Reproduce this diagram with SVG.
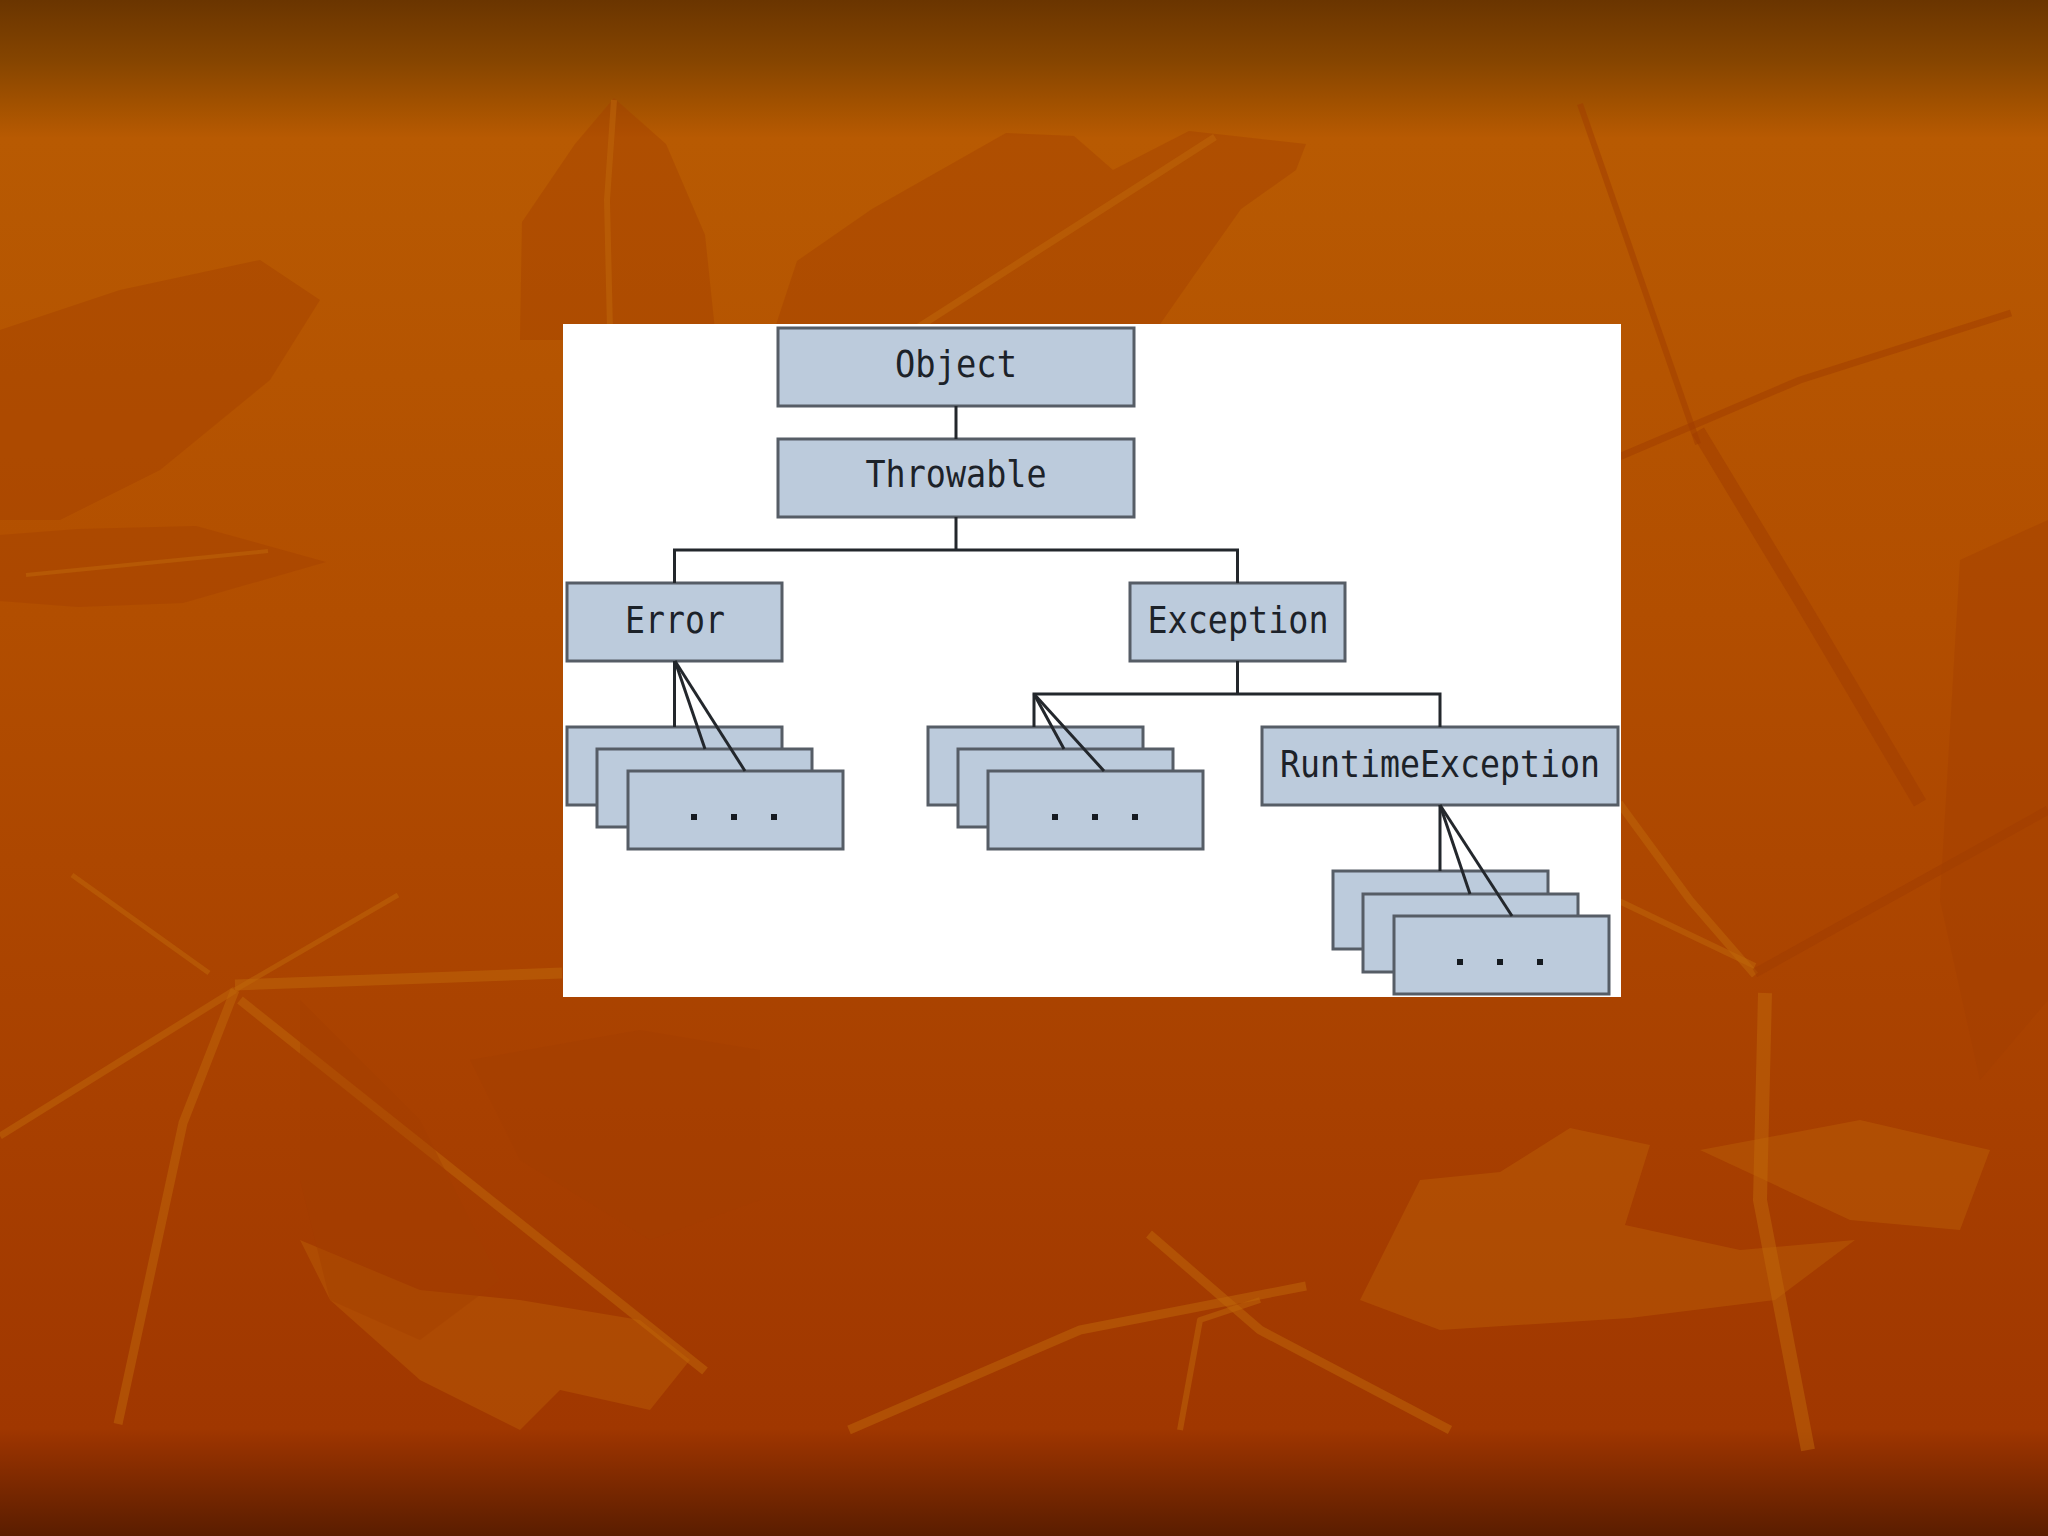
<svg xmlns="http://www.w3.org/2000/svg" width="2048" height="1536" viewBox="0 0 2048 1536">
  <defs>
    <linearGradient id="bg" x1="0" y1="0" x2="0" y2="1536" gradientUnits="userSpaceOnUse">
      <stop offset="0" stop-color="#6a3500"/>
      <stop offset="0.04" stop-color="#864500"/>
      <stop offset="0.07" stop-color="#a45200"/>
      <stop offset="0.09" stop-color="#b85a02"/>
      <stop offset="0.4" stop-color="#b24e00"/>
      <stop offset="0.72" stop-color="#a84000"/>
      <stop offset="0.93" stop-color="#a03700"/>
      <stop offset="0.94" stop-color="#963200"/>
      <stop offset="1" stop-color="#5a1d00"/>
    </linearGradient>
    <style>
      .dk { fill: #a23f00; opacity: 0.4; }
      .lt { fill: #c26a08; opacity: 0.35; }
      .vein { stroke: #c0680a; fill: none; stroke-linecap: butt; stroke-linejoin: round; opacity: 0.5; }
      .dvein { stroke: #a03c00; fill: none; stroke-linecap: butt; stroke-linejoin: round; opacity: 0.5; }
      .box { fill: #bccbdc; stroke: #565d66; stroke-width: 3; }
      .lbl { font-family: "DejaVu Sans Mono", "Liberation Mono", monospace; font-size: 38px; fill: #1c2229; text-anchor: middle; }
      .dot { fill: #151a20; }
      .conn { stroke: #23272c; stroke-width: 3; fill: none; }
    </style>
  </defs>

  <!-- background -->
  <rect x="0" y="0" width="2048" height="1536" fill="url(#bg)"/>
  <g id="leaves">
    <!-- top centre leaf -->
    <path class="dk" d="M872,209 L1006,133 L1074,136 L1113,170 L1189,131 L1306,144 L1296,170 L1241,209 L1195,274 L1149,340 L771,340 L797,261 Z" opacity="0.55"/>
    <path class="vein" stroke-width="7" d="M1215,137 L914,330"/>
    <!-- tall top-left leaf -->
    <path class="dk" d="M522,222 L575,144 L614,98 L666,144 L705,235 L716,340 L520,340 Z" opacity="0.3"/>
    <path class="vein" stroke-width="6" d="M614,100 L607,200 L610,330"/>
    <!-- left upper faint leaf -->
    <path class="dk" d="M0,330 L120,290 L260,260 L320,300 L270,380 L160,470 L60,520 L0,520 Z" opacity="0.18"/>
    <!-- left horizontal dark leaf -->
    <path class="dk" d="M0,535 L78,529 L196,526 L326,562 L183,603 L78,607 L0,601 Z" opacity="0.6"/>
    <path class="vein" stroke-width="4" d="M26,575 L268,551"/>
    <!-- lower-left branches -->
    <path class="vein" stroke-width="11" d="M235,985 L562,973"/>
    <path class="vein" stroke-width="5" d="M235,990 L398,895"/>
    <path class="vein" stroke-width="9" d="M235,990 L183,1123 L118,1424"/>
    <path class="vein" stroke-width="9" d="M240,1000 L705,1371"/>
    <path class="vein" stroke-width="7" d="M235,990 L0,1136"/>
    <path class="vein" stroke-width="5" d="M72,875 L209,973"/>
    <path class="lt" d="M300,1240 L420,1290 L520,1300 L640,1320 L690,1360 L650,1410 L560,1390 L520,1430 L420,1380 L330,1300 Z" opacity="0.3"/>
    <path class="dk" d="M300,1000 L420,1120 L500,1280 L420,1340 L330,1300 L300,1180 Z" opacity="0.2"/>
    <!-- bottom centre -->
    <path class="dk" d="M470,1060 L640,1030 L760,1050 L760,1200 L650,1240 L520,1160 Z" opacity="0.2"/>
    <path class="lt" d="M1360,1300 L1420,1180 L1500,1172 L1570,1128 L1650,1145 L1625,1225 L1740,1250 L1855,1240 L1775,1300 L1630,1318 L1440,1330 Z"/>
    <path class="vein" stroke-width="9" d="M1149,1234 L1260,1330 L1450,1430"/>
    <path class="vein" stroke-width="9" d="M849,1430 L1080,1330 L1306,1286"/>
    <path class="vein" stroke-width="6" d="M1180,1430 L1200,1320 L1260,1300"/>
    <!-- right stems -->
    <path class="vein" stroke-width="14" d="M1765,993 L1760,1200 L1808,1450"/>
    <path class="vein" stroke-width="8" d="M1619,803 L1690,900 L1755,975"/>
    <path class="vein" stroke-width="6" d="M1619,901 L1755,966"/>
    <path class="dvein" stroke-width="9" d="M1755,973 L2048,810"/>
    <path class="dvein" stroke-width="14" d="M1698,431 L1800,600 L1920,803"/>
    <path class="dvein" stroke-width="7" d="M1619,457 L1800,380 L2011,313"/>
    <path class="dvein" stroke-width="6" d="M1580,104 L1698,444"/>
    <path class="dk" d="M1960,560 L2048,520 L2048,1000 L1980,1080 L1940,900 Z" opacity="0.2"/>
    <path class="lt" d="M1700,1150 L1860,1120 L1990,1150 L1960,1230 L1850,1220 Z" opacity="0.25"/>
  </g>

  <!-- panel -->
  <rect x="563" y="324" width="1058" height="673" fill="#ffffff"/>

  <!-- nodes -->
  <g id="object">
    <rect class="box" x="778" y="328" width="356" height="78"/>
    <text class="lbl" x="956" y="377" textLength="122" lengthAdjust="spacingAndGlyphs">Object</text>
  </g>
  <g id="throwable">
    <rect class="box" x="778" y="439" width="356" height="78"/>
    <text class="lbl" x="956" y="487" textLength="181" lengthAdjust="spacingAndGlyphs">Throwable</text>
  </g>
  <g id="error">
    <rect class="box" x="567" y="583" width="215" height="78"/>
    <text class="lbl" x="675" y="633" textLength="100" lengthAdjust="spacingAndGlyphs">Error</text>
  </g>
  <g id="exception">
    <rect class="box" x="1130" y="583" width="215" height="78"/>
    <text class="lbl" x="1238" y="633" textLength="181" lengthAdjust="spacingAndGlyphs">Exception</text>
  </g>
  <g id="runtimeexception">
    <rect class="box" x="1262" y="727" width="356" height="78"/>
    <text class="lbl" x="1440" y="777" textLength="320" lengthAdjust="spacingAndGlyphs">RuntimeException</text>
  </g>
  <g id="error-subclasses">
    <rect class="box" x="567" y="727" width="215" height="78"/>
    <rect class="box" x="597" y="749" width="215" height="78"/>
    <rect class="box" x="628" y="771" width="215" height="78"/>
    <rect class="dot" x="691" y="814" width="6" height="6"/>
    <rect class="dot" x="731" y="814" width="6" height="6"/>
    <rect class="dot" x="771" y="814" width="6" height="6"/>
  </g>
  <g id="exception-subclasses">
    <rect class="box" x="928" y="727" width="215" height="78"/>
    <rect class="box" x="958" y="749" width="215" height="78"/>
    <rect class="box" x="988" y="771" width="215" height="78"/>
    <rect class="dot" x="1052" y="814" width="6" height="6"/>
    <rect class="dot" x="1092" y="814" width="6" height="6"/>
    <rect class="dot" x="1132" y="814" width="6" height="6"/>
  </g>
  <g id="runtime-subclasses">
    <rect class="box" x="1333" y="871" width="215" height="78"/>
    <rect class="box" x="1363" y="894" width="215" height="78"/>
    <rect class="box" x="1394" y="916" width="215" height="78"/>
    <rect class="dot" x="1457" y="959" width="6" height="6"/>
    <rect class="dot" x="1497" y="959" width="6" height="6"/>
    <rect class="dot" x="1537" y="959" width="6" height="6"/>
  </g>

  <!-- connectors -->
  <g id="connectors" class="conn">
    <line x1="956" y1="406" x2="956" y2="439"/>
    <polyline points="956,517 956,550"/>
    <polyline points="674.5,583 674.5,550 1237.5,550 1237.5,583"/>
    <line x1="674.5" y1="661" x2="674.5" y2="727"/>
    <line x1="675" y1="661" x2="705" y2="749"/>
    <line x1="675" y1="661" x2="745" y2="771"/>
    <line x1="1237.5" y1="661" x2="1237.5" y2="694"/>
    <polyline points="1034,727 1034,694 1440,694 1440,727"/>
    <line x1="1034" y1="694" x2="1064" y2="749"/>
    <line x1="1034" y1="694" x2="1104" y2="771"/>
    <line x1="1440" y1="805" x2="1440" y2="871"/>
    <line x1="1440" y1="805" x2="1470" y2="894"/>
    <line x1="1440" y1="805" x2="1512" y2="916"/>
  </g>
</svg>
